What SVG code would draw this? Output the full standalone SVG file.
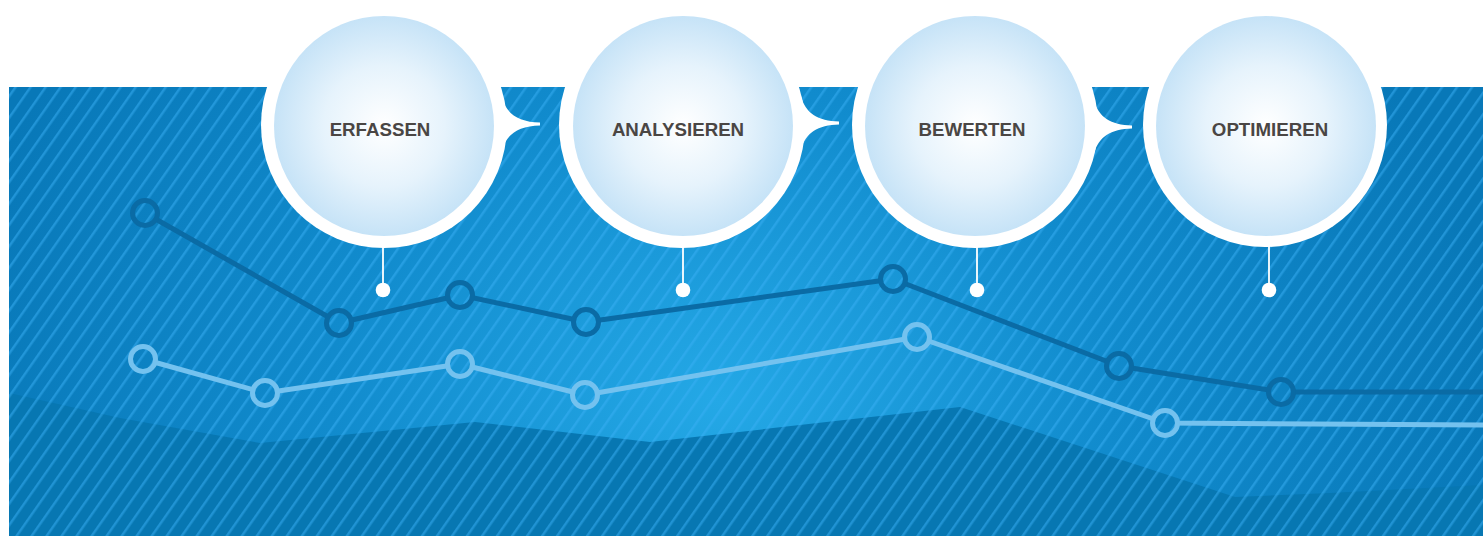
<svg xmlns="http://www.w3.org/2000/svg" width="1483" height="536" viewBox="0 0 1483 536">
  <style>
    .bubble-outer { fill: #ffffff; }
    .bubble-inner { fill: url(#bubbleGrad); }
    .label { font-family: "Liberation Sans", Arial, sans-serif; font-weight: bold; font-size: 18.7px; fill: #4a4644; text-anchor: middle; }
    .stem { stroke: #ffffff; stroke-width: 1.8; }
    .dot { fill: #ffffff; }
    .dark { stroke: #0a6ba5; stroke-width: 5; fill: none; stroke-linejoin: round; }
    .light { stroke: #74c2ef; stroke-width: 5; fill: none; stroke-linejoin: round; }
  </style>
  <defs>
    <radialGradient id="bgGrad" gradientUnits="userSpaceOnUse" cx="720" cy="400" r="780" gradientTransform="translate(720 400) scale(1 0.8) translate(-720 -400)">
      <stop offset="0" stop-color="#24a8e6"/>
      <stop offset="0.5" stop-color="#118bcd"/>
      <stop offset="1" stop-color="#0878b8"/>
    </radialGradient>
    <radialGradient id="bubbleGrad" cx="0.5" cy="0.5" r="0.5">
      <stop offset="0" stop-color="#ffffff"/>
      <stop offset="0.55" stop-color="#e6f3fc"/>
      <stop offset="1" stop-color="#c6e3f7"/>
    </radialGradient>
    <pattern id="stripes" patternUnits="userSpaceOnUse" width="12.3" height="12.3" patternTransform="rotate(35)">
      <rect x="0" y="0" width="2.4" height="12.3" fill="#3ab0f5" fill-opacity="0.5"/>
    </pattern>
    <mask id="lineMask" maskUnits="userSpaceOnUse" x="0" y="0" width="1483" height="536">
      <rect x="0" y="0" width="1483" height="536" fill="#ffffff"/>
      <g fill="#000000">
        <circle cx="145" cy="213" r="11"/>
        <circle cx="339" cy="323" r="11"/>
        <circle cx="460" cy="295" r="11"/>
        <circle cx="586" cy="322" r="11"/>
        <circle cx="893" cy="279" r="11"/>
        <circle cx="1119" cy="366" r="11"/>
        <circle cx="1281" cy="392" r="11"/>
        <circle cx="143" cy="359" r="11"/>
        <circle cx="265" cy="393" r="11"/>
        <circle cx="460" cy="364" r="11"/>
        <circle cx="585" cy="395" r="11"/>
        <circle cx="917" cy="337" r="11"/>
        <circle cx="1165" cy="423" r="11"/>
      </g>
    </mask>
  </defs>

  <g id="background">
    <rect x="0" y="0" width="1483" height="536" fill="#ffffff"/>
    <rect x="9" y="87" width="1474" height="449" fill="url(#bgGrad)"/>
    <path d="M9,393 L120,418 L260,443 L475,422 L650,442 L960,407 L1235,497 L1330,493 L1483,485 L1483,536 L9,536 Z" fill="#0777b2"/>
    <rect x="9" y="87" width="1474" height="449" fill="url(#stripes)"/>
  </g>

  <g id="series-dark">
    <polyline class="dark" mask="url(#lineMask)" points="145,213 339,323 460,295 586,322 893,279 1119,366 1281,392 1483,392"/>
    <g class="dark">
      <circle cx="145" cy="213" r="12.5"/>
      <circle cx="339" cy="323" r="12.5"/>
      <circle cx="460" cy="295" r="12.5"/>
      <circle cx="586" cy="322" r="12.5"/>
      <circle cx="893" cy="279" r="12.5"/>
      <circle cx="1119" cy="366" r="12.5"/>
      <circle cx="1281" cy="392" r="12.5"/>
    </g>
  </g>

  <g id="series-light">
    <polyline class="light" mask="url(#lineMask)" points="143,359 265,393 460,364 585,395 917,337 1165,423 1483,425"/>
    <g class="light">
      <circle cx="143" cy="359" r="12.5"/>
      <circle cx="265" cy="393" r="12.5"/>
      <circle cx="460" cy="364" r="12.5"/>
      <circle cx="585" cy="395" r="12.5"/>
      <circle cx="917" cy="337" r="12.5"/>
      <circle cx="1165" cy="423" r="12.5"/>
    </g>
  </g>

  <g id="connectors">
    <line class="stem" x1="383" y1="244" x2="383" y2="290"/>
    <circle class="dot" cx="383" cy="290" r="7.3"/>
    <line class="stem" x1="683" y1="244" x2="683" y2="290"/>
    <circle class="dot" cx="683" cy="290" r="7.3"/>
    <line class="stem" x1="977" y1="244" x2="977" y2="290"/>
    <circle class="dot" cx="977" cy="290" r="7.3"/>
    <line class="stem" x1="1269" y1="244" x2="1269" y2="290"/>
    <circle class="dot" cx="1269" cy="290" r="7.3"/>
  </g>

  <g id="node-erfassen">
    <path class="bubble-outer" d="M494,96 L502,97 C506,114 519,122 540,122.5 L540,125.5 C519,126 506,134 502,151 L494,151 Z"/>
    <circle class="bubble-outer" cx="384" cy="125" r="123"/>
    <circle class="bubble-inner" cx="384" cy="126" r="110"/>
    <text class="label" x="380" y="136">ERFASSEN</text>
  </g>

  <g id="node-analysieren">
    <path class="bubble-outer" d="M793,95 L801,96 C805,113 818,121 839,121.5 L839,124.5 C818,125 805,133 801,150 L793,150 Z"/>
    <circle class="bubble-outer" cx="682" cy="125" r="123"/>
    <circle class="bubble-inner" cx="683" cy="126" r="110"/>
    <text class="label" x="678" y="136">ANALYSIEREN</text>
  </g>

  <g id="node-bewerten">
    <path class="bubble-outer" d="M1086,99 L1094,100 C1098,117 1111,125 1132,125.5 L1132,128.5 C1111,129 1098,137 1094,154 L1086,154 Z"/>
    <circle class="bubble-outer" cx="975" cy="125" r="123"/>
    <circle class="bubble-inner" cx="975" cy="126" r="110"/>
    <text class="label" x="972" y="136">BEWERTEN</text>
  </g>

  <g id="node-optimieren">
    <circle class="bubble-outer" cx="1265" cy="125" r="122"/>
    <circle class="bubble-inner" cx="1266" cy="126" r="110"/>
    <text class="label" x="1270" y="136">OPTIMIEREN</text>
  </g>
</svg>
